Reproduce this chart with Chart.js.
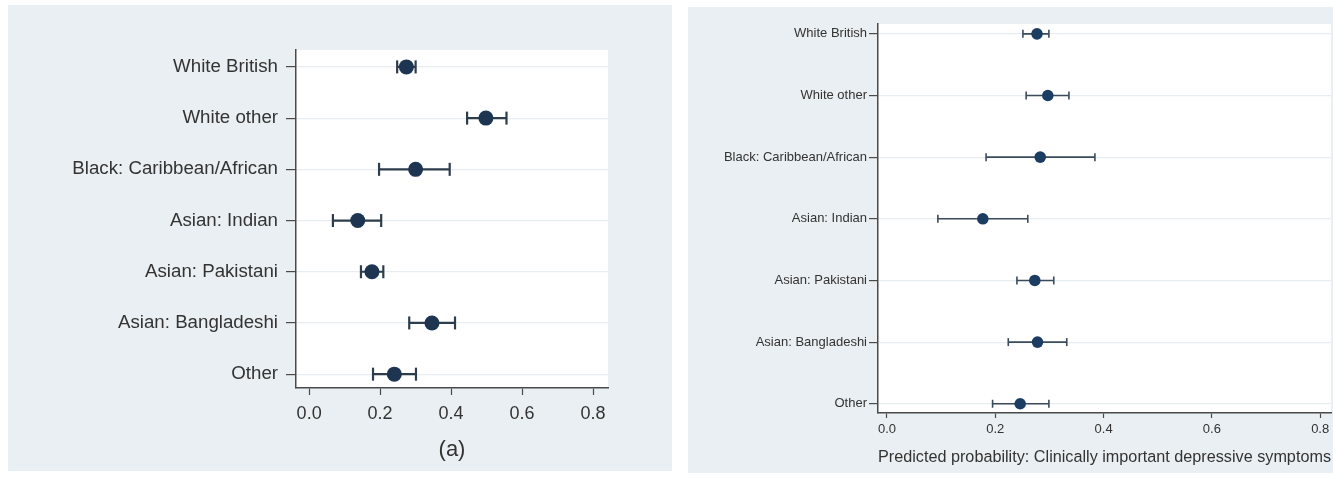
<!DOCTYPE html>
<html>
<head>
<meta charset="utf-8">
<script src="https://cdn.jsdelivr.net/npm/chart.js@4"></script>
<style>
	html, body { margin: 0; padding: 0; background: #ffffff; width: 1333px; height: 479px; overflow: hidden; }
	.panel { position: absolute; background: #e9eff2; }
	#panel-a { left: 8px; top: 5px; width: 664px; height: 466px; }
	#panel-b { left: 688px; top: 7px; width: 662px; height: 466px; }
</style>
</head>
<body>
<div class="panel" id="panel-a"><canvas id="chart-a" width="664" height="466"></canvas></div>
<div class="panel" id="panel-b"><canvas id="chart-b" width="662" height="466"></canvas></div>
<script>
// ============= Data =============

const groups = [ "White British", "White other", "Black: Caribbean/African", "Asian: Indian", "Asian: Pakistani", "Asian: Bangladeshi", "Other" ];
const xTicks = [ 0, 0.2, 0.4, 0.6, 0.8 ];

// panel (a)
const estimateA = [ 0.274, 0.498, 0.300, 0.137, 0.177, 0.346, 0.240 ];
const lowerA    = [ 0.248, 0.445, 0.197, 0.067, 0.146, 0.282, 0.180 ];
const upperA    = [ 0.300, 0.556, 0.396, 0.203, 0.209, 0.411, 0.301 ];

// right panel
const estimateB = [ 0.277, 0.297, 0.283, 0.177, 0.273, 0.278, 0.246 ];
const lowerB    = [ 0.251, 0.257, 0.183, 0.094, 0.240, 0.224, 0.195 ];
const upperB    = [ 0.299, 0.336, 0.384, 0.260, 0.308, 0.332, 0.299 ];

const titleA = "(a)";
const titleB = "Predicted probability: Clinically important depressive symptoms";

// ============= Utility =============

const FONT = "'Liberation Sans', Arial, sans-serif";

const plotBackground = {
	id: "plotBackground",
	beforeDraw(chart)
	{
		const { ctx, chartArea: a } = chart;
		ctx.save();
		ctx.fillStyle = "#ffffff";
		ctx.fillRect(a.left, a.top, a.right - a.left, a.bottom - a.top);
		ctx.restore();
	}
};

// CI segments, broken apart by empty points
function segments(lower, upper)
{
	const data = [];
	for (let i = 0; i < lower.length; i++)
	{
		data.push({ x: lower[i], y: i }, { x: upper[i], y: i }, { x: null, y: null });
	}
	return data;
}

function caps(lower, upper)
{
	return lower.flatMap((lo, i) => [ { x: lo, y: i }, { x: upper[i], y: i } ]);
}

function createForestPlot(element, s)
{
	return new Chart(element, {
		type: "scatter",
		data: {
			datasets: [
				{
					data: s.estimate.map((x, y) => ({ x, y })),
					pointRadius: s.dotRadius,
					backgroundColor: s.dotColor,
					borderWidth: 0
				},
				{
					data: caps(s.lower, s.upper),
					pointStyle: "line",
					rotation: 90,
					pointRadius: s.capRadius,
					borderColor: s.lineColor,
					borderWidth: s.lineWidth
				},
				{
					type: "line",
					data: segments(s.lower, s.upper),
					borderColor: s.lineColor,
					borderWidth: s.lineWidth,
					pointRadius: 0,
					spanGaps: false,
					fill: false
				}
			]
		},
		options: {
			responsive: false,
			animation: false,
			events: [],
			layout: { padding: s.padding },
			plugins: { legend: { display: false }, tooltip: { enabled: false } },
			scales: {
				x: {
					type: "linear",
					min: s.xMin,
					max: s.xMax,
					afterBuildTicks: scale => { scale.ticks = xTicks.map(value => ({ value })); },
					afterFit: scale => { scale.height = s.xHeight; },
					ticks: { callback: v => v.toFixed(1), font: { family: FONT, size: s.tickSize }, color: "#333333", padding: s.xTickPadding, maxRotation: 0 },
					grid: { drawOnChartArea: false, tickLength: s.xTickLength, tickColor: "#4a4a4a", tickWidth: 1.2 },
					border: { color: "#4a4a4a", width: 1.5 },
					title: { display: true, text: s.title, font: { family: FONT, size: s.titleSize }, color: "#333333", padding: { top: 0, bottom: s.titlePadding } }
				},
				y: {
					type: "linear",
					reverse: true,
					min: s.yMin,
					max: s.yMax,
					afterBuildTicks: scale => { scale.ticks = groups.map((g, i) => ({ value: i })); },
					afterFit: scale => { scale.width = s.yWidth; },
					ticks: { callback: v => groups[v], autoSkip: false, font: { family: FONT, size: s.labelSize }, color: "#333333", padding: s.yTickPadding },
					grid: { color: "#e7edf0", lineWidth: 1.2, tickLength: s.yTickLength, tickColor: "#4a4a4a", tickWidth: 1.2 },
					border: { color: "#4a4a4a", width: 1.5 }
				}
			}
		},
		plugins: [ plotBackground ]
	});
}

// ============= Charts =============

createForestPlot(document.getElementById("chart-a"), {
	estimate: estimateA, lower: lowerA, upper: upperA,
	title: titleA,
	dotRadius: 7.5, dotColor: "#1d3550", capRadius: 6.5, lineColor: "#2e3d4c", lineWidth: 2.2,
	padding: { top: 45, right: 64, bottom: 0, left: 0 },
	xMin: -0.037, xMax: 0.842, yMin: -0.33, yMax: 6.27,
	yWidth: 288, xHeight: 83,
	tickSize: 18, labelSize: 18.7, titleSize: 22,
	xTickLength: 7, xTickPadding: 8, yTickLength: 10, yTickPadding: 8,
	titlePadding: 8
});

createForestPlot(document.getElementById("chart-b"), {
	estimate: estimateB, lower: lowerB, upper: upperB,
	title: titleB,
	dotRadius: 5.8, dotColor: "#1b3d62", capRadius: 4, lineColor: "#3b4b5b", lineWidth: 1.6,
	padding: { top: 17, right: 19, bottom: 0, left: 0 },
	xMin: -0.0166, xMax: 0.82, yMin: -0.16, yMax: 6.15,
	yWidth: 190, xHeight: 60,
	tickSize: 13, labelSize: 13, titleSize: 16.8,
	xTickLength: 5, xTickPadding: 4, yTickLength: 9, yTickPadding: 2,
	titlePadding: 6
});
</script>
</body>
</html>
